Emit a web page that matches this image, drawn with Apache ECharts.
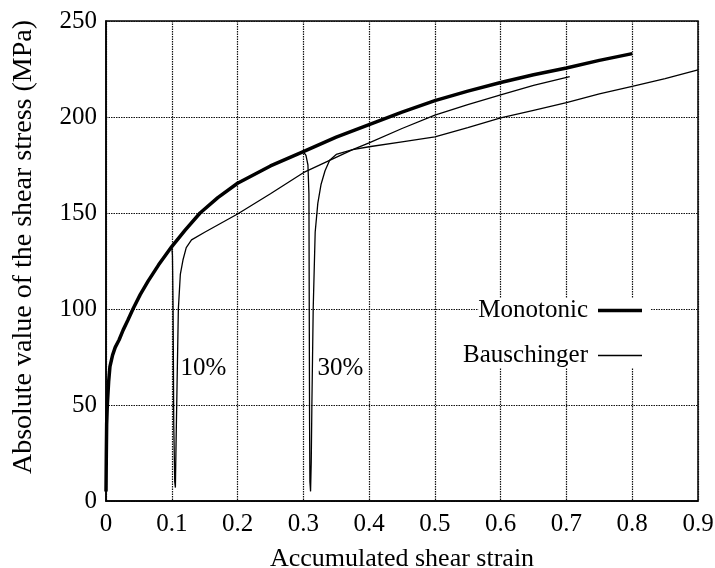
<!DOCTYPE html>
<html>
<head>
<meta charset="utf-8">
<script src="https://cdn.jsdelivr.net/npm/echarts@6/dist/echarts.min.js"></script>
<style>
  html, body { margin: 0; padding: 0; background: #fff; }
  #chart { width: 715px; height: 568px; }
</style>
</head>
<body>
<div id="chart"></div>
<script>
// monotonic test
var monoStrain = [0, 0.0005, 0.001, 0.002, 0.004, 0.006, 0.01, 0.014, 0.02, 0.026, 0.033, 0.041, 0.052, 0.064, 0.08, 0.1,
  0.12, 0.143, 0.17, 0.2, 0.25, 0.3, 0.35, 0.4, 0.45, 0.5, 0.55, 0.6, 0.65, 0.7, 0.75, 0.8];
var monoStress = [5, 25, 40, 50, 62, 70, 76, 80, 84, 89, 94, 100, 107.5, 114.5, 123, 132.5,
  141, 150, 158, 165.5, 174.5, 182, 189.5, 196, 202.5, 208.5, 213.5, 218, 222, 225.5, 229.5, 233];

// reversal after 10% prestrain
var b10Strain = [0.1, 0.101, 0.102, 0.103, 0.1045, 0.1055, 0.1065, 0.108, 0.11, 0.113, 0.117, 0.122, 0.13, 0.15,
  0.2, 0.25, 0.3, 0.375, 0.4, 0.45, 0.5, 0.55, 0.6, 0.65, 0.705];
var b10Stress = [132.5, 128, 100, 40, 10, 7, 30, 60, 100, 118, 125.5, 132, 136, 140,
  149.5, 160, 171, 183, 186.5, 194, 201, 206.5, 211.5, 216.5, 221];

// reversal after 30% prestrain
var b30Strain = [0.3, 0.304, 0.307, 0.3085, 0.309, 0.3095, 0.31, 0.311, 0.312, 0.313, 0.315, 0.318, 0.322, 0.327,
  0.333, 0.34, 0.35, 0.375, 0.4, 0.45, 0.5, 0.55, 0.6, 0.65, 0.7, 0.75, 0.8, 0.85, 0.9];
var b30Stress = [182, 180, 175, 160, 100, 40, 10, 5, 20, 50, 100, 140, 155, 165,
  172, 177.5, 180.5, 183, 184.5, 187, 189.6, 194.5, 199.5, 203.5, 207.5, 212, 216, 220, 224.5];

// prestrain annotations
var pctLabels = ['10%', '30%'];
var pctStrain = [0.1125, 0.3207];
var pctStress = [69, 69];

function zip(xs, ys) {
  return xs.map(function (x, i) { return [x, ys[i]]; });
}

var serif = 'Liberation Serif';

function pctMark(i) {
  return {
    symbol: 'circle',
    symbolSize: 1,
    itemStyle: { color: 'transparent' },
    silent: true,
    label: {
      show: true,
      position: 'right',
      distance: 0,
      formatter: pctLabels[i],
      color: '#000',
      fontFamily: serif,
      fontSize: 25
    },
    data: [{ coord: [pctStrain[i], pctStress[i]] }]
  };
}

function legendFor(name, top, pad, thick) {
  return {
    data: [name],
    align: 'right',
    right: 65,
    top: top,
    padding: pad,
    icon: 'rect',
    itemWidth: 44,
    itemHeight: thick,
    backgroundColor: '#fff',
    selectedMode: false,
    itemStyle: { color: '#000', borderWidth: 0 },
    textStyle: { fontFamily: serif, fontSize: 25, color: '#000', padding: [0, 5, 0, 0] }
  };
}

var chart = echarts.init(document.getElementById('chart'));

var gridDots = { color: '#111', width: 1.2, type: [1.5, 1] };

var option = {
  backgroundColor: '#fff',
  animation: false,
  grid: {
    left: 106, right: 17, top: 21, bottom: 67,
    containLabel: false,
    outerBoundsMode: 'none',
    show: true, borderColor: '#000', borderWidth: 1.5, backgroundColor: 'transparent'
  },
  legend: [
    legendFor('Monotonic', 298, [0, 8, 9, 0], 3.5),
    legendFor('Bauschinger', 332, [11, 8, 0, 0], 1.3)
  ],
  xAxis: {
    type: 'value',
    min: 0, max: 0.9, interval: 0.1,
    name: 'Accumulated shear strain',
    nameLocation: 'middle',
    nameGap: 45,
    nameTextStyle: { fontFamily: serif, fontSize: 26, color: '#000' },
    axisLine: { show: true, lineStyle: { color: '#000', width: 1.5 } },
    axisTick: { show: false },
    axisLabel: { fontFamily: serif, fontSize: 25, color: '#000', margin: 11 },
    splitLine: { show: true, lineStyle: gridDots }
  },
  yAxis: {
    type: 'value',
    min: 0, max: 250, interval: 50,
    name: 'Absolute value of the shear stress (MPa)',
    nameLocation: 'middle',
    nameGap: 68,
    nameTextStyle: { fontFamily: serif, fontSize: 28, color: '#000', padding: [0, 0, 0, 28] },
    axisLine: { show: true, lineStyle: { color: '#000', width: 1.5 } },
    axisTick: { show: false },
    axisLabel: { fontFamily: serif, fontSize: 25, color: '#000', margin: 9 },
    splitLine: { show: true, lineStyle: gridDots }
  },
  series: [{
    name: 'Monotonic',
    type: 'line',
    symbol: 'none',
    data: zip(monoStrain, monoStress),
    lineStyle: { color: '#000', width: 3.5 },
    itemStyle: { color: '#000' },
    z: 3
  }, {
    name: 'Bauschinger',
    type: 'line',
    symbol: 'none',
    data: zip(b10Strain, b10Stress),
    lineStyle: { color: '#000', width: 1.3 },
    itemStyle: { color: '#000' },
    markPoint: pctMark(0)
  }, {
    name: 'Bauschinger',
    type: 'line',
    symbol: 'none',
    data: zip(b30Strain, b30Stress),
    lineStyle: { color: '#000', width: 1.3 },
    itemStyle: { color: '#000' },
    markPoint: pctMark(1)
  }]
};

chart.setOption(option);
</script>
</body>
</html>
